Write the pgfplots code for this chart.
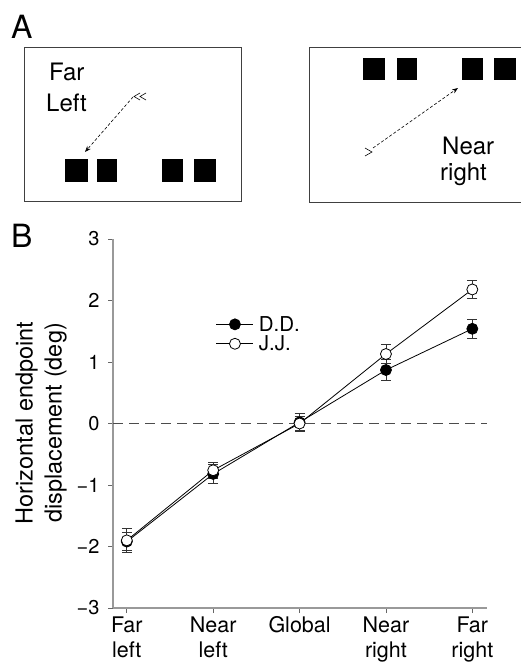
\documentclass[border=0pt]{standalone}
\usepackage{fontspec}
\setmainfont{TeX Gyre Heros}
\usepackage{pgfplots}
\pgfplotsset{compat=1.18}
\usetikzlibrary{arrows.meta}
\definecolor{axgray}{gray}{0.6}
\begin{document}
\begin{tikzpicture}
\useasboundingbox (0pt,0pt) rectangle (521pt,-664pt);
\begin{scope}[x=1pt,y=-1pt]
  % panel labels
  \node[anchor=base west,inner sep=0,font=\fontsize{32}{32}\selectfont] at (11,38.5) {A};
  \node[anchor=base west,inner sep=0,font=\fontsize{32}{32}\selectfont] at (11,247) {B};
  % left box
  \draw[line width=0.8pt,black!75] (24,47) rectangle (241,201);
  \fill (65,159) rectangle (88,182);
  \fill (97,159) rectangle (117,182);
  \fill (162,159) rectangle (183,182);
  \fill (194,159) rectangle (216,182);
  \node[anchor=base west,inner sep=0,font=\fontsize{24}{24}\selectfont] at (49,80) {Far};
  \node[anchor=base west,inner sep=0,font=\fontsize{24}{24}\selectfont] at (46,111) {Left};
  \draw[line width=0.6pt,dash pattern=on 3pt off 2pt,-{Stealth[length=6pt,width=4.5pt]}] (133,97) -- (85,152);
  \draw[line width=0.6pt] (140,93) -- (134,96.5) -- (140,100);
  \draw[line width=0.6pt] (146,93) -- (140,96.5) -- (146,100);
  % right box
  \draw[line width=0.8pt,black!75] (309,47) rectangle (530,202);
  \fill (363,58) rectangle (385,80);
  \fill (397,58) rectangle (417,80);
  \fill (462,58) rectangle (483,80);
  \fill (494,58) rectangle (516,80);
  \node[anchor=base west,inner sep=0,font=\fontsize{24}{24}\selectfont] at (442,154) {Near};
  \node[anchor=base west,inner sep=0,font=\fontsize{24}{24}\selectfont] at (440,180) {right};
  \draw[line width=0.6pt,dash pattern=on 3pt off 2pt,-{Stealth[length=6pt,width=4.5pt]}] (373,148) -- (458,88);
  \draw[line width=0.6pt] (365,148) -- (372,152) -- (365,156);
  % y label
  \node[rotate=90,align=center,font=\fontsize{23.5}{29}\selectfont] at (41,423) {Horizontal endpoint\\displacement (deg)};
\end{scope}
\begin{axis}[
  at={(113pt,-608pt)}, anchor=south west,
  scale only axis, width=374pt, height=369pt,
  xmin=-0.16, xmax=4.17, ymin=-3, ymax=3,
  clip=false,
  axis x line*=bottom, axis y line*=left,
  axis line style={axgray,line width=1.2pt,-},
  tick align=outside, major tick length=5pt,
  tick style={black!60,line width=0.8pt},
  xtick={0,1,2,3,4},
  xticklabels={{Far\\left},{Near\\left},{Global},{Near\\right},{Far\\right}},
  xticklabel style={align=center,font=\fontsize{21.5}{25}\selectfont},
  ytick={-3,-2,-1,0,1,2,3},
  yticklabels={−3,−2,−1,0,1,2,3},
  yticklabel style={font=\fontsize{20}{20}\selectfont,xshift=-5pt},
  legend style={at={(rel axis cs:0.275,0.797)},anchor=north west,draw=none,fill=none,
    font=\fontsize{20.5}{20.5}\selectfont,row sep=-1pt,inner sep=0pt},
  legend cell align=left,
  legend image code/.code={\draw[mark repeat=2,mark phase=2] plot coordinates {(0pt,0pt)(18.5pt,0pt)(37pt,0pt)};},
  error bars/error bar style={line width=0.7pt,black!80},
  error bars/error mark options={rotate=90,mark size=5pt,line width=0.7pt,black!80},
]
\addplot[black!70,line width=0.8pt,dash pattern=on 10pt off 6pt,forget plot] coordinates {(-0.16,0) (4.17,0)};
\addplot[black,line width=0.8pt,mark=*,mark size=5.5pt,mark options={fill=black},
  error bars/.cd,y dir=both,y explicit]
  table[x=x,y=y,y error=e] {
x y e
0 -1.92 0.15
1 -0.82 0.15
2 0.02 0.14
3 0.87 0.17
4 1.54 0.15
};
\addlegendentry{\hspace{3pt}D.D.}
\addplot[black,line width=0.8pt,mark=*,mark size=5.5pt,mark options={fill=white},
  error bars/.cd,y dir=both,y explicit]
  table[x=x,y=y,y error=e] {
x y e
0 -1.90 0.19
1 -0.76 0.13
2 0.00 0.11
3 1.13 0.15
4 2.18 0.15
};
\addlegendentry{\hspace{3pt}J.J.}
\end{axis}
\end{tikzpicture}
\end{document}
